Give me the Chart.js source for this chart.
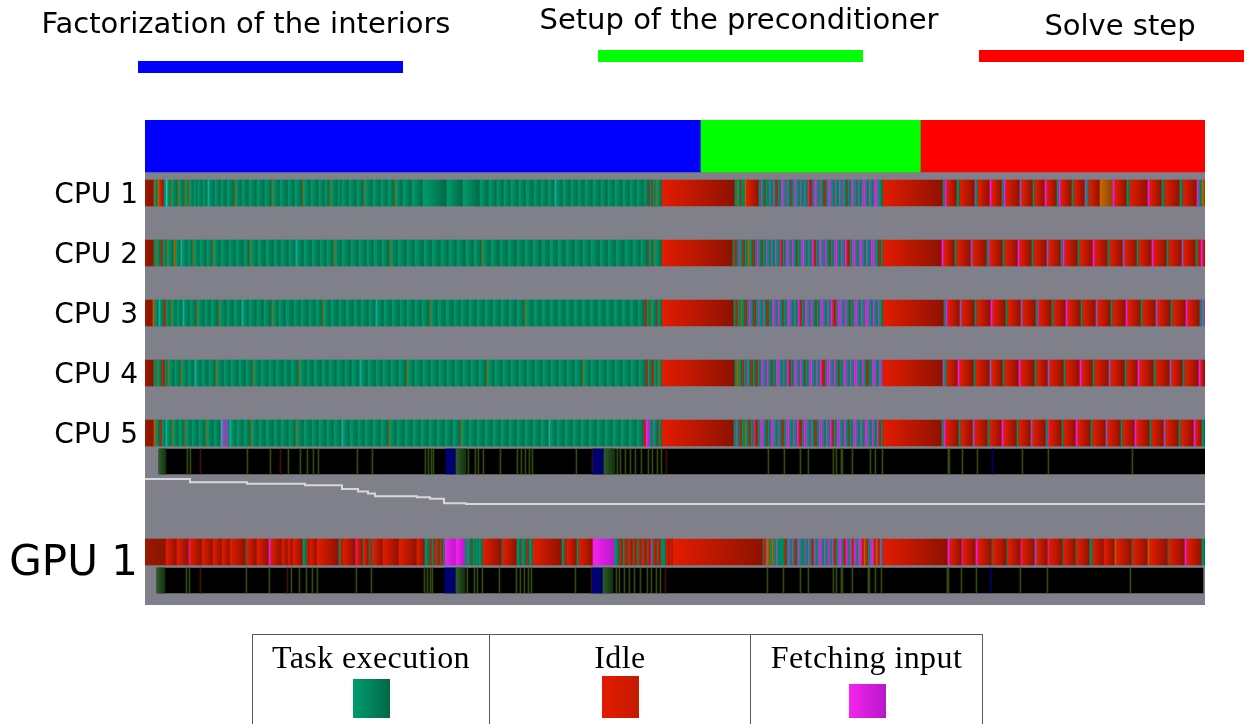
<!DOCTYPE html>
<html>
<head>
<meta charset="utf-8">
<title>Trace</title>
<script src="https://cdn.jsdelivr.net/npm/chart.js@4.4.0/dist/chart.umd.min.js"></script>
<style>
  body { margin: 0; background: #fff; }
  #wrap { position: relative; width: 1249px; height: 724px; overflow: hidden; }
  #trace { position: absolute; left: 0; top: 0; }
  .phase-name { position: absolute; font-family: 'DejaVu Sans', sans-serif; font-size: 29px; line-height: 29px; white-space: nowrap; transform: translateX(-50%); color: #000; }
  .phase-key { position: absolute; width: 265px; height: 12px; }
  .state-cell { position: absolute; top: 634px; height: 100px; border-top: 1px solid #5a5a5a; border-left: 1px solid #5a5a5a; box-sizing: border-box; }
  .state-cell.last { border-right: 1px solid #5a5a5a; }
  .state-name { position: absolute; left: 0; right: 0; top: 6px; text-align: center; font-family: 'Liberation Serif', serif; font-size: 32px; line-height: 32px; letter-spacing: 0.4px; white-space: nowrap; }
  .state-swatch { position: absolute; width: 37px; left: 50%; margin-left: -18px; }
</style>
</head>
<body>
<div id="wrap">
  <canvas id="trace" width="1249" height="724"></canvas>
</div>
<script>
// phases of the run
const phaseNames = ['Factorization of the interiors', 'Setup of the preconditioner', 'Solve step'];
const phaseEnds = [556, 776, 1060];
const phaseColors = ['#0000ff', '#00ff00', '#ff0000'];

// worker states shown in the key below the trace
const stateNames = ['Task execution', 'Idle', 'Fetching input'];
const stateKeys = ['E', 'I', 'F'];

// per worker: [end time (ms), state], each segment starts where the previous one ended
const cpu1 = [[9,'Z'],[10,'O'],[13,'E'],[15,'O'],[19,'I'],[21,'E'],[23,'C'],[26,'E'],[27,'O'],[33,'E'],[34,'O'],[40,'E'],[41,'O'],[44,'E'],[45,'O'],[49,'E'],[53,'E'],[58,'E'],[63,'E'],[64,'C'],[70,'E'],[76,'E'],[82,'E'],[90,'E'],[91,'O'],[97,'E'],[104,'E'],[112,'E'],[120,'E'],[127,'E'],[128,'O'],[135,'E'],[143,'E'],[150,'E'],[158,'E'],[159,'O'],[166,'E'],[174,'E'],[180,'E'],[185,'E'],[186,'O'],[193,'E'],[197,'E'],[204,'E'],[212,'E'],[219,'E'],[220,'O'],[228,'E'],[236,'E'],[243,'E'],[250,'E'],[251,'O'],[258,'E'],[267,'E'],[278,'E'],[302,'E'],[318,'E'],[335,'E'],[344,'E'],[352,'E'],[359,'E'],[366,'E'],[374,'E'],[381,'E'],[389,'E'],[396,'E'],[403,'E'],[410,'E'],[411,'C'],[418,'E'],[426,'E'],[433,'E'],[440,'E'],[448,'E'],[456,'E'],[463,'E'],[470,'E'],[478,'E'],[485,'E'],[492,'E'],[499,'E'],[504,'E'],[505,'I'],[507,'E'],[508,'I'],[511,'E'],[512,'O'],[517,'E'],
  [590,'I'],[592,'E'],[593,'O'],[596,'E'],[597,'I'],[600,'E'],[602,'O'],[614,'I'],
  [616,'E'],[617,'F'],[620,'E'],[621,'I'],[624,'E'],[625,'P'],[628,'E'],[629,'F'],[631,'E'],[633,'I'],[636,'E'],[637,'F'],[640,'P'],[642,'E'],[643,'F'],[646,'E'],[647,'I'],[649,'E'],[650,'F'],[652,'P'],[655,'E'],[656,'F'],[659,'E'],[660,'P'],[663,'E'],[664,'F'],[667,'I'],[669,'E'],[670,'F'],[673,'P'],[675,'E'],[676,'F'],[679,'E'],[681,'I'],[683,'E'],[684,'F'],[687,'P'],[690,'E'],[691,'F'],[694,'E'],[696,'P'],[698,'E'],[699,'F'],[702,'E'],[703,'I'],[706,'E'],[707,'F'],[710,'P'],[713,'E'],[714,'F'],[717,'E'],[719,'P'],[721,'F'],[724,'E'],[726,'P'],[729,'E'],[731,'F'],[734,'P'],[738,'E'],
  [798,'I'],[800,'E'],[802,'F'],[812,'I'],[815,'E'],[830,'I'],[831,'P'],[833,'E'],[845,'I'],[847,'F'],[857,'I'],[859,'E'],[861,'F'],[875,'I'],[877,'P'],[888,'I'],[890,'E'],[900,'I'],[902,'F'],[912,'I'],[914,'E'],[916,'F'],[927,'I'],[929,'E'],[940,'I'],[942,'P'],[944,'E'],[955,'I'],[968,'O'],[970,'F'],[982,'I'],[985,'E'],[1003,'I'],[1005,'F'],[1017,'I'],[1020,'E'],[1035,'I'],[1038,'E'],[1052,'I'],[1054,'F'],[1057,'E'],[1060,'O']];

const cpu2 = [[9,'Z'],[11,'E'],[12,'O'],[16,'E'],[18,'I'],[22,'E'],[23,'O'],[29,'E'],[31,'O'],[36,'E'],[37,'C'],[43,'E'],[48,'E'],[49,'O'],[55,'E'],[62,'E'],[68,'E'],[69,'O'],[76,'E'],[84,'E'],[91,'E'],[99,'E'],[105,'E'],[106,'O'],[113,'E'],[121,'E'],[129,'E'],[136,'E'],[144,'E'],[151,'E'],[152,'C'],[159,'E'],[167,'E'],[175,'E'],[182,'E'],[189,'E'],[190,'O'],[197,'E'],[206,'E'],[214,'E'],[222,'E'],[229,'E'],[237,'E'],[245,'E'],[246,'O'],[253,'E'],[262,'E'],[270,'E'],[279,'E'],[287,'E'],[296,'E'],[304,'E'],[312,'E'],[321,'E'],[329,'E'],[337,'E'],[338,'O'],[346,'E'],[355,'E'],[363,'E'],[372,'E'],[380,'E'],[388,'E'],[397,'E'],[405,'E'],[413,'E'],[421,'E'],[430,'E'],[438,'E'],[446,'E'],[455,'E'],[463,'E'],[471,'E'],[480,'E'],[488,'E'],[496,'E'],[503,'E'],[504,'I'],[509,'E'],[510,'O'],[517,'E'],
  [588,'I'],[590,'E'],[592,'I'],[594,'E'],[595,'F'],[598,'E'],[600,'I'],[603,'E'],[605,'O'],[608,'E'],[610,'I'],[612,'E'],
  [614,'F'],[617,'E'],[618,'I'],[621,'E'],[623,'P'],[626,'E'],[627,'F'],[630,'E'],[632,'P'],[635,'E'],[636,'F'],[638,'I'],[641,'E'],[642,'F'],[645,'P'],[647,'E'],[649,'F'],[652,'E'],[653,'I'],[656,'E'],[658,'P'],[660,'F'],[663,'E'],[664,'P'],[667,'E'],[669,'F'],[671,'I'],[674,'E'],[675,'F'],[678,'P'],[680,'E'],[682,'F'],[685,'E'],[686,'I'],[689,'E'],[691,'P'],[693,'F'],[696,'E'],[698,'P'],[700,'E'],[702,'F'],[705,'I'],[707,'E'],[709,'P'],[711,'F'],[714,'E'],[716,'P'],[718,'F'],[721,'E'],[723,'P'],[726,'E'],[728,'F'],[731,'P'],[734,'E'],[736,'I'],[738,'E'],
  [797,'I'],[799,'F'],[810,'I'],[812,'E'],[826,'I'],[828,'P'],[842,'I'],[844,'E'],[845,'F'],[858,'I'],[860,'E'],[873,'I'],[875,'F'],[887,'I'],[889,'E'],[902,'I'],[904,'P'],[916,'I'],[918,'E'],[920,'F'],[933,'I'],[935,'E'],[948,'I'],[950,'F'],[963,'I'],[965,'E'],[978,'I'],[980,'P'],[992,'I'],[994,'E'],[1007,'I'],[1009,'F'],[1022,'I'],[1024,'E'],[1037,'I'],[1039,'P'],[1051,'I'],[1053,'E'],[1056,'I'],[1058,'F'],[1060,'I']];

const cpu3 = [[8,'Z'],[10,'O'],[14,'E'],[15,'C'],[19,'E'],[21,'I'],[26,'E'],[27,'O'],[32,'E'],[38,'E'],[39,'C'],[45,'E'],[52,'E'],[53,'O'],[60,'E'],[66,'E'],[74,'E'],[75,'O'],[82,'E'],[89,'E'],[97,'E'],[98,'C'],[104,'E'],[112,'E'],[119,'E'],[127,'E'],[128,'O'],[134,'E'],[141,'E'],[149,'E'],[156,'E'],[164,'E'],[171,'E'],[178,'E'],[179,'O'],[186,'E'],[194,'E'],[201,'E'],[209,'E'],[216,'E'],[224,'E'],[231,'E'],[232,'C'],[239,'E'],[247,'E'],[255,'E'],[262,'E'],[270,'E'],[277,'E'],[285,'E'],[286,'O'],[293,'E'],[301,'E'],[309,'E'],[316,'E'],[324,'E'],[332,'E'],[340,'E'],[348,'E'],[356,'E'],[364,'E'],[372,'E'],[380,'E'],[381,'O'],[389,'E'],[397,'E'],[405,'E'],[413,'E'],[421,'E'],[429,'E'],[437,'E'],[445,'E'],[453,'E'],[461,'E'],[469,'E'],[477,'E'],[485,'E'],[493,'E'],[500,'E'],[502,'I'],[506,'E'],[507,'O'],[512,'E'],[513,'I'],[517,'E'],
  [589,'I'],[591,'E'],[593,'I'],[596,'E'],[597,'O'],[600,'E'],[602,'I'],[604,'E'],[606,'F'],[609,'E'],[611,'I'],[613,'E'],
  [615,'P'],[618,'E'],[619,'F'],[622,'E'],[624,'I'],[627,'E'],[628,'F'],[631,'P'],[633,'E'],[635,'F'],[638,'E'],[639,'I'],[642,'E'],[644,'P'],[646,'F'],[649,'E'],[650,'P'],[653,'E'],[655,'F'],[657,'I'],[660,'E'],[661,'F'],[664,'P'],[666,'E'],[668,'F'],[671,'E'],[672,'I'],[675,'E'],[677,'P'],[679,'F'],[682,'E'],[684,'P'],[686,'E'],[688,'F'],[691,'I'],[693,'E'],[695,'F'],[698,'P'],[700,'E'],[702,'F'],[705,'E'],[706,'I'],[709,'E'],[711,'P'],[713,'F'],[716,'E'],[718,'P'],[720,'E'],[722,'F'],[725,'P'],[728,'E'],[730,'F'],[733,'E'],[735,'P'],[738,'E'],
  [799,'I'],[801,'E'],[803,'F'],[815,'I'],[817,'P'],[830,'I'],[832,'E'],[846,'I'],[848,'F'],[861,'I'],[863,'E'],[876,'I'],[878,'P'],[891,'I'],[893,'E'],[894,'F'],[907,'I'],[909,'E'],[921,'I'],[923,'F'],[936,'I'],[938,'E'],[951,'I'],[953,'P'],[966,'I'],[968,'E'],[981,'I'],[983,'F'],[996,'I'],[998,'E'],[1011,'I'],[1013,'P'],[1026,'I'],[1028,'E'],[1041,'I'],[1043,'F'],[1055,'I'],[1057,'E'],[1060,'P']];

const cpu4 = [[9,'Z'],[12,'E'],[13,'O'],[17,'E'],[20,'I'],[23,'E'],[24,'O'],[30,'E'],[36,'E'],[37,'O'],[43,'E'],[50,'E'],[51,'C'],[57,'E'],[64,'E'],[71,'E'],[72,'O'],[79,'E'],[86,'E'],[94,'E'],[101,'E'],[108,'E'],[109,'O'],[116,'E'],[124,'E'],[131,'E'],[139,'E'],[146,'E'],[154,'E'],[155,'O'],[162,'E'],[169,'E'],[177,'E'],[184,'E'],[192,'E'],[200,'E'],[207,'E'],[215,'E'],[216,'C'],[223,'E'],[231,'E'],[238,'E'],[246,'E'],[254,'E'],[262,'E'],[263,'O'],[270,'E'],[278,'E'],[286,'E'],[294,'E'],[302,'E'],[310,'E'],[318,'E'],[326,'E'],[334,'E'],[342,'E'],[343,'O'],[350,'E'],[358,'E'],[366,'E'],[374,'E'],[382,'E'],[390,'E'],[398,'E'],[406,'E'],[414,'E'],[422,'E'],[430,'E'],[438,'E'],[439,'O'],[446,'E'],[454,'E'],[462,'E'],[470,'E'],[478,'E'],[486,'E'],[494,'E'],[501,'E'],[503,'I'],[507,'E'],[509,'I'],[513,'E'],[514,'O'],[517,'E'],
  [590,'I'],[592,'E'],[594,'O'],[597,'E'],[599,'I'],[602,'E'],[603,'F'],[606,'E'],[608,'I'],[611,'E'],[613,'I'],
  [616,'E'],[617,'F'],[620,'P'],[622,'E'],[624,'F'],[627,'E'],[628,'I'],[631,'E'],[633,'P'],[635,'F'],[638,'E'],[639,'P'],[642,'E'],[644,'F'],[646,'I'],[649,'E'],[650,'F'],[653,'P'],[655,'E'],[657,'F'],[660,'E'],[661,'I'],[664,'E'],[666,'P'],[668,'F'],[671,'E'],[673,'P'],[675,'E'],[677,'F'],[680,'I'],[682,'E'],[684,'F'],[687,'P'],[689,'E'],[691,'F'],[694,'E'],[695,'I'],[698,'E'],[700,'P'],[702,'F'],[705,'E'],[707,'P'],[709,'E'],[711,'F'],[714,'P'],[717,'E'],[719,'F'],[722,'E'],[724,'I'],[727,'E'],[729,'P'],[731,'F'],[734,'E'],[738,'P'],
  [798,'I'],[800,'P'],[802,'E'],[813,'I'],[815,'F'],[829,'I'],[831,'E'],[845,'I'],[847,'P'],[858,'I'],[860,'E'],[874,'I'],[876,'F'],[890,'I'],[892,'E'],[903,'I'],[905,'P'],[919,'I'],[921,'E'],[935,'I'],[937,'F'],[948,'I'],[950,'E'],[964,'I'],[966,'P'],[980,'I'],[982,'E'],[993,'I'],[995,'F'],[1009,'I'],[1011,'E'],[1025,'I'],[1027,'P'],[1038,'I'],[1040,'E'],[1054,'I'],[1056,'F'],[1060,'I']];

const cpu5 = [[9,'Z'],[11,'O'],[15,'E'],[17,'I'],[21,'E'],[22,'C'],[27,'E'],[28,'O'],[34,'E'],[40,'E'],[41,'O'],[47,'E'],[54,'E'],[61,'E'],[62,'O'],[69,'E'],[76,'E'],[77,'C'],[82,'P'],[83,'F'],[85,'E'],[86,'C'],[92,'E'],[99,'E'],[106,'E'],[107,'O'],[114,'E'],[121,'E'],[129,'E'],[136,'E'],[144,'E'],[151,'E'],[152,'O'],[159,'E'],[167,'E'],[174,'E'],[182,'E'],[189,'E'],[197,'E'],[198,'C'],[205,'E'],[213,'E'],[220,'E'],[228,'E'],[236,'E'],[244,'E'],[245,'O'],[252,'E'],[260,'E'],[268,'E'],[276,'E'],[284,'E'],[292,'E'],[300,'E'],[308,'E'],[316,'E'],[317,'O'],[324,'E'],[332,'E'],[340,'E'],[348,'E'],[356,'E'],[364,'E'],[372,'E'],[380,'E'],[388,'E'],[396,'E'],[404,'E'],[405,'C'],[412,'E'],[420,'E'],[428,'E'],[436,'E'],[444,'E'],[452,'E'],[460,'E'],[468,'E'],[476,'E'],[484,'E'],[492,'E'],[499,'E'],[501,'I'],[505,'F'],[508,'E'],[509,'P'],[513,'E'],[514,'I'],[517,'E'],
  [589,'I'],[591,'E'],[592,'F'],[595,'E'],[597,'I'],[600,'E'],[601,'O'],[604,'E'],[606,'I'],[609,'E'],[610,'F'],[613,'I'],
  [615,'E'],[617,'P'],[619,'F'],[622,'E'],[623,'I'],[626,'E'],[628,'F'],[630,'P'],[633,'E'],[634,'F'],[637,'E'],[639,'I'],[641,'E'],[643,'P'],[645,'F'],[648,'E'],[650,'P'],[652,'E'],[654,'F'],[657,'I'],[659,'E'],[661,'F'],[663,'P'],[666,'E'],[667,'F'],[670,'E'],[672,'I'],[674,'E'],[676,'P'],[678,'F'],[681,'E'],[683,'P'],[685,'E'],[687,'F'],[689,'I'],[692,'E'],[694,'F'],[696,'P'],[699,'E'],[701,'F'],[704,'E'],[705,'I'],[708,'E'],[710,'P'],[712,'F'],[715,'E'],[717,'P'],[720,'E'],[722,'F'],[724,'P'],[727,'E'],[729,'F'],[732,'E'],[734,'P'],[736,'I'],[738,'E'],
  [797,'I'],[799,'E'],[801,'F'],[814,'I'],[816,'E'],[828,'I'],[830,'P'],[843,'I'],[845,'E'],[857,'I'],[859,'F'],[872,'I'],[874,'E'],[886,'I'],[888,'P'],[901,'I'],[903,'E'],[904,'F'],[917,'I'],[919,'E'],[931,'I'],[933,'F'],[946,'I'],[948,'E'],[961,'I'],[963,'P'],[976,'I'],[978,'E'],[990,'I'],[992,'F'],[1005,'I'],[1007,'E'],[1019,'I'],[1021,'P'],[1034,'I'],[1036,'E'],[1049,'I'],[1051,'F'],[1057,'I'],[1060,'E']];

const gpu1 = [[21,'Z'],[32,'I'],[44,'I'],[45,'F'],[57,'I'],[68,'I'],[77,'I'],[85,'I'],[101,'I'],[102,'E'],[112,'I'],[124,'I'],[126,'F'],[137,'I'],[143,'I'],[148,'I'],[158,'I'],[162,'E'],[165,'I'],[172,'I'],[194,'I'],[196,'E'],[198,'I'],[211,'I'],[212,'F'],[218,'I'],[219,'E'],[224,'I'],[225,'E'],[227,'I'],[228,'E'],[238,'I'],[254,'I'],[272,'I'],[280,'I'],[285,'E'],[287,'I'],[289,'E'],[291,'I'],[292,'E'],[295,'I'],[296,'E'],[298,'I'],[300,'E'],[311,'F'],[320,'F'],[322,'E'],[323,'P'],[327,'E'],[328,'I'],[331,'E'],[334,'E'],[338,'E'],[357,'I'],[358,'E'],[372,'I'],[376,'E'],[377,'I'],[382,'E'],[384,'I'],[385,'E'],[388,'E'],[417,'I'],[420,'E'],[422,'I'],[432,'I'],[434,'E'],[448,'I'],[470,'F'],[475,'E'],[478,'I'],[480,'E'],[483,'I'],[484,'E'],[488,'I'],[489,'E'],[492,'I'],[494,'E'],[497,'I'],[498,'E'],[502,'I'],[503,'E'],[506,'I'],[507,'F'],[509,'E'],[512,'I'],[513,'E'],[516,'I'],[518,'E'],[521,'E'],[525,'I'],[528,'I'],
  [618,'I'],[619,'E'],[621,'I'],[622,'P'],[625,'O'],[627,'E'],[629,'O'],[631,'E'],[633,'P'],[635,'E'],[637,'E'],[640,'E'],[642,'I'],[643,'E'],[645,'P'],[647,'E'],[648,'F'],[650,'E'],[652,'I'],[653,'E'],[656,'P'],[658,'E'],[660,'E'],[661,'F'],[663,'E'],[665,'P'],[667,'E'],[669,'I'],[671,'P'],[673,'E'],[675,'P'],[677,'F'],[679,'E'],[681,'P'],[683,'E'],[685,'F'],[687,'E'],[689,'P'],[691,'I'],[693,'E'],[695,'P'],[697,'F'],[699,'E'],[701,'I'],[703,'F'],[705,'E'],[707,'P'],[709,'I'],[711,'F'],[713,'E'],[715,'P'],[717,'F'],[719,'I'],[721,'O'],[723,'I'],[725,'E'],[727,'P'],[729,'F'],[731,'I'],[733,'O'],[735,'I'],[737,'P'],[738,'E'],
  [803,'I'],[805,'F'],[817,'I'],[818,'F'],[831,'I'],[833,'F'],[847,'I'],[848,'E'],[862,'I'],[863,'E'],[876,'I'],[877,'F'],[890,'I'],[892,'P'],[903,'I'],[904,'F'],[918,'I'],[919,'E'],[931,'I'],[932,'E'],[945,'I'],[948,'E'],[959,'I'],[970,'I'],[972,'O'],[987,'I'],[988,'E'],[1003,'I'],[1005,'O'],[1023,'I'],[1024,'E'],[1040,'I'],[1042,'F'],[1057,'I'],[1060,'E']];

// transfer lanes: busy spans [start, end, kind] drawn over an empty lane
const link1Span = [14, 1060];
const link1 = [[14,21,'G'],[42,43,'L'],[45,46,'L'],[55,56,'R'],[102,103,'L'],[125,126,'L'],[135,136,'R'],[143,144,'L'],[155,156,'L'],[162,163,'L'],[168,169,'L'],[173,174,'L'],[212,213,'L'],[227,228,'L'],[280,281,'L'],[283,284,'L'],[286,287,'L'],[288,289,'L'],[301,311,'N'],[311,321,'G'],[323,324,'L'],[330,331,'L'],[333,334,'L'],[338,339,'L'],[355,356,'L'],[372,373,'L'],[376,377,'L'],[380,381,'L'],[384,385,'L'],[387,388,'L'],[431,432,'L'],[447,448,'R'],[448,459,'N'],[459,470,'G'],[472,473,'L'],[475,476,'L'],[480,481,'L'],[485,486,'L'],[490,491,'L'],[496,497,'L'],[503,504,'L'],[507,508,'L'],[512,513,'L'],[516,517,'L'],[521,522,'R'],[623,624,'L'],[639,640,'L'],[655,656,'L'],[663,664,'L'],[688,689,'L'],[691,692,'L'],[696,698,'L'],[707,708,'L'],[725,726,'L'],[730,731,'L'],[737,738,'L'],[803,805,'L'],[817,818,'L'],[832,833,'L'],[847,848,'N'],[877,878,'L'],[903,904,'L'],[987,988,'L']];
const link2Span = [12, 1058];
const link2 = [[12,20,'G'],[41,42,'L'],[44,45,'L'],[55,56,'R'],[101,102,'L'],[124,125,'L'],[142,143,'R'],[146,147,'L'],[154,155,'L'],[161,162,'L'],[167,168,'L'],[172,173,'L'],[211,212,'L'],[226,227,'L'],[279,280,'L'],[282,283,'L'],[285,286,'L'],[287,288,'L'],[300,311,'N'],[311,320,'G'],[322,323,'L'],[329,330,'L'],[332,333,'L'],[337,338,'L'],[354,355,'L'],[371,372,'L'],[375,376,'L'],[379,380,'L'],[383,384,'L'],[386,387,'L'],[430,431,'L'],[446,447,'R'],[447,458,'N'],[458,468,'G'],[471,472,'L'],[474,475,'L'],[479,480,'L'],[484,485,'L'],[489,490,'L'],[495,496,'L'],[502,503,'L'],[506,507,'L'],[511,512,'L'],[515,516,'L'],[520,521,'R'],[622,623,'L'],[638,639,'L'],[655,656,'L'],[663,664,'L'],[688,689,'L'],[691,692,'L'],[696,698,'L'],[707,708,'L'],[723,725,'L'],[730,731,'L'],[736,737,'L'],[802,804,'L'],[816,817,'L'],[831,832,'L'],[845,846,'N'],[875,876,'L'],[902,903,'L'],[985,986,'L']];

// ready tasks over time (step curve)
const readyTime = [0, 45, 102, 160, 197, 213, 223, 230, 272, 285, 299, 321, 1060];
const readyTasks = [260, 253, 250, 247, 239, 234, 230, 224, 222, 219, 210, 208, 208];

// ---- look ----
const stateColors = {
  E: ['#009b6e', '#006845'],   // task execution
  I: ['#e31c00', '#8c1200'],   // idle
  F: ['#f622f2', '#b619c6'],   // fetching input
  O: ['#c56a00', '#8a4300'],
  C: ['#28d2d2', '#139e9e'],
  P: ['#8c5cbc', '#6a4a98'],
  Z: ['#991a02', '#8a1400'],
  K: ['#000000', '#000000'],
  L: ['#3c5612', '#2a3e0b'],
  G: ['#2d5c27', '#12300f'],
  N: ['#00007c', '#000062'],
  R: ['#4e1300', '#360c00']
};
const bgGray = '#80808a';

// vertical layout of the lanes, in pixels below the top of the plot
const rowPos = { phase: 26, 'CPU 1': 73, 'CPU 2': 133, 'CPU 3': 193, 'CPU 4': 253, 'CPU 5': 313, link1: 341.5, 'GPU 1': 432, link2: 460.5 };
const labelPos = { 'CPU 1': 76, 'CPU 2': 136, 'CPU 3': 196, 'CPU 4': 256, 'CPU 5': 316, 'GPU 1': 444 };

function toBars(list, y) {
  let prev = 0;
  return list.map(([end, s]) => {
    const bar = { x: [prev, end], y: y, s: s };
    prev = end;
    return bar;
  });
}

function linkBars(span, marks, y) {
  const bars = [{ x: span, y: y, s: 'K' }];
  marks.forEach(([a, b, s]) => bars.push({ x: [a, b], y: y, s: s }));
  return bars;
}

// gradient from left to right over each segment
function stateFill(ctx) {
  const bar = ctx.raw;
  if (!bar || !bar.s) return '#000';
  const c = stateColors[bar.s];
  const xs = ctx.chart.scales.x;
  if (!xs) return c[0];
  const a = xs.getPixelForValue(bar.x[0]);
  const b = xs.getPixelForValue(bar.x[1]);
  if (!isFinite(a) || !isFinite(b)) return c[0];
  const g = ctx.chart.ctx.createLinearGradient(a, 0, b, 0);
  g.addColorStop(0, c[0]);
  g.addColorStop(1, c[1]);
  return g;
}

let start = 0;
const phaseBars = phaseEnds.map((end) => {
  const bar = { x: [start, end], y: rowPos.phase };
  start = end;
  return bar;
});

const workers = [['CPU 1', cpu1], ['CPU 2', cpu2], ['CPU 3', cpu3], ['CPU 4', cpu4], ['CPU 5', cpu5], ['GPU 1', gpu1]];

const datasets = [{
  label: 'Phases',
  data: phaseBars,
  barThickness: 52,
  backgroundColor: phaseColors
}];
workers.forEach(([name, list]) => {
  datasets.push({ label: name, data: toBars(list, rowPos[name]), barThickness: 26, backgroundColor: stateFill });
});
datasets.push({ label: 'link1', data: linkBars(link1Span, link1, rowPos.link1), barThickness: 25, backgroundColor: stateFill });
datasets.push({ label: 'link2', data: linkBars(link2Span, link2, rowPos.link2), barThickness: 25, backgroundColor: stateFill });
datasets.push({
  type: 'line',
  label: 'Ready tasks',
  indexAxis: 'x',
  xAxisID: 'x',
  yAxisID: 'yReady',
  data: readyTime.map((t, i) => ({ x: t, y: readyTasks[i] })),
  stepped: true,
  borderColor: '#d6d6dc',
  borderWidth: 2,
  pointRadius: 0,
  fill: false
});

const plotBackground = {
  id: 'plotBackground',
  beforeDatasetsDraw(chart) {
    const { ctx, chartArea } = chart;
    ctx.save();
    ctx.fillStyle = bgGray;
    ctx.fillRect(chartArea.left, chartArea.top, chartArea.right - chartArea.left, chartArea.bottom - chartArea.top);
    ctx.restore();
  }
};

const labelNames = Object.keys(labelPos);

new Chart(document.getElementById('trace'), {
  type: 'bar',
  data: { datasets: datasets },
  plugins: [plotBackground],
  options: {
    responsive: false,
    animation: false,
    events: [],
    indexAxis: 'y',
    layout: { padding: { top: 120, right: 44, bottom: 119, left: 0 } },
    datasets: { bar: { grouped: false, borderWidth: 0 } },
    plugins: { legend: { display: false }, tooltip: { enabled: false } },
    scales: {
      x: { type: 'linear', axis: 'x', min: 0, max: 1060, offset: false, display: false },
      y: {
        type: 'linear', axis: 'y', min: 0, max: 485, reverse: true, offset: false,
        grid: { display: false, drawTicks: false },
        border: { display: false },
        afterBuildTicks(scale) {
          scale.ticks = labelNames.map(n => ({ value: labelPos[n] }));
        },
        afterFit(scale) { scale.width = 145; },
        ticks: {
          autoSkip: false,
          padding: 7,
          color: '#000',
          font: (ctx) => ({ family: 'DejaVu Sans', size: ctx.tick && ctx.tick.value === labelPos['GPU 1'] ? 42 : 28 }),
          callback: (v) => labelNames.find(n => labelPos[n] === v) || ''
        }
      },
      yReady: { type: 'linear', axis: 'y', position: 'right', min: 0, max: 1000, offset: false, display: false }
    }
  }
});

// phase key above the trace
const wrap = document.getElementById('wrap');
const phaseLabelX = [246, 739, 1120];
const phaseLabelTop = [9, 5, 11];
const phaseKeyX = [138, 598, 979];
const phaseKeyTop = [61, 50, 50];
phaseNames.forEach((name, i) => {
  const t = document.createElement('div');
  t.className = 'phase-name';
  t.style.left = phaseLabelX[i] + 'px';
  t.style.top = phaseLabelTop[i] + 'px';
  t.textContent = name;
  wrap.appendChild(t);
  const k = document.createElement('div');
  k.className = 'phase-key';
  k.style.left = phaseKeyX[i] + 'px';
  k.style.top = phaseKeyTop[i] + 'px';
  k.style.background = phaseColors[i];
  wrap.appendChild(k);
});

// state key below the trace
const cellX = [252, 489, 750];
const cellW = [237, 261, 232];
const swatchTop = [44, 41, 49];
stateNames.forEach((name, i) => {
  const cell = document.createElement('div');
  cell.className = 'state-cell' + (i === stateNames.length - 1 ? ' last' : '');
  cell.style.left = cellX[i] + 'px';
  cell.style.width = (cellW[i] + (i === stateNames.length - 1 ? 1 : 0)) + 'px';
  const t = document.createElement('div');
  t.className = 'state-name';
  t.textContent = name;
  cell.appendChild(t);
  const c = stateColors[stateKeys[i]];
  const sw = document.createElement('div');
  sw.className = 'state-swatch';
  sw.style.top = swatchTop[i] + 'px';
  sw.style.height = (83 - swatchTop[i]) + 'px';
  sw.style.background = 'linear-gradient(to right, ' + c[0] + ', ' + (i === 1 ? '#c41a00' : c[1]) + ')';
  cell.appendChild(sw);
  wrap.appendChild(cell);
});
</script>
</body>
</html>
